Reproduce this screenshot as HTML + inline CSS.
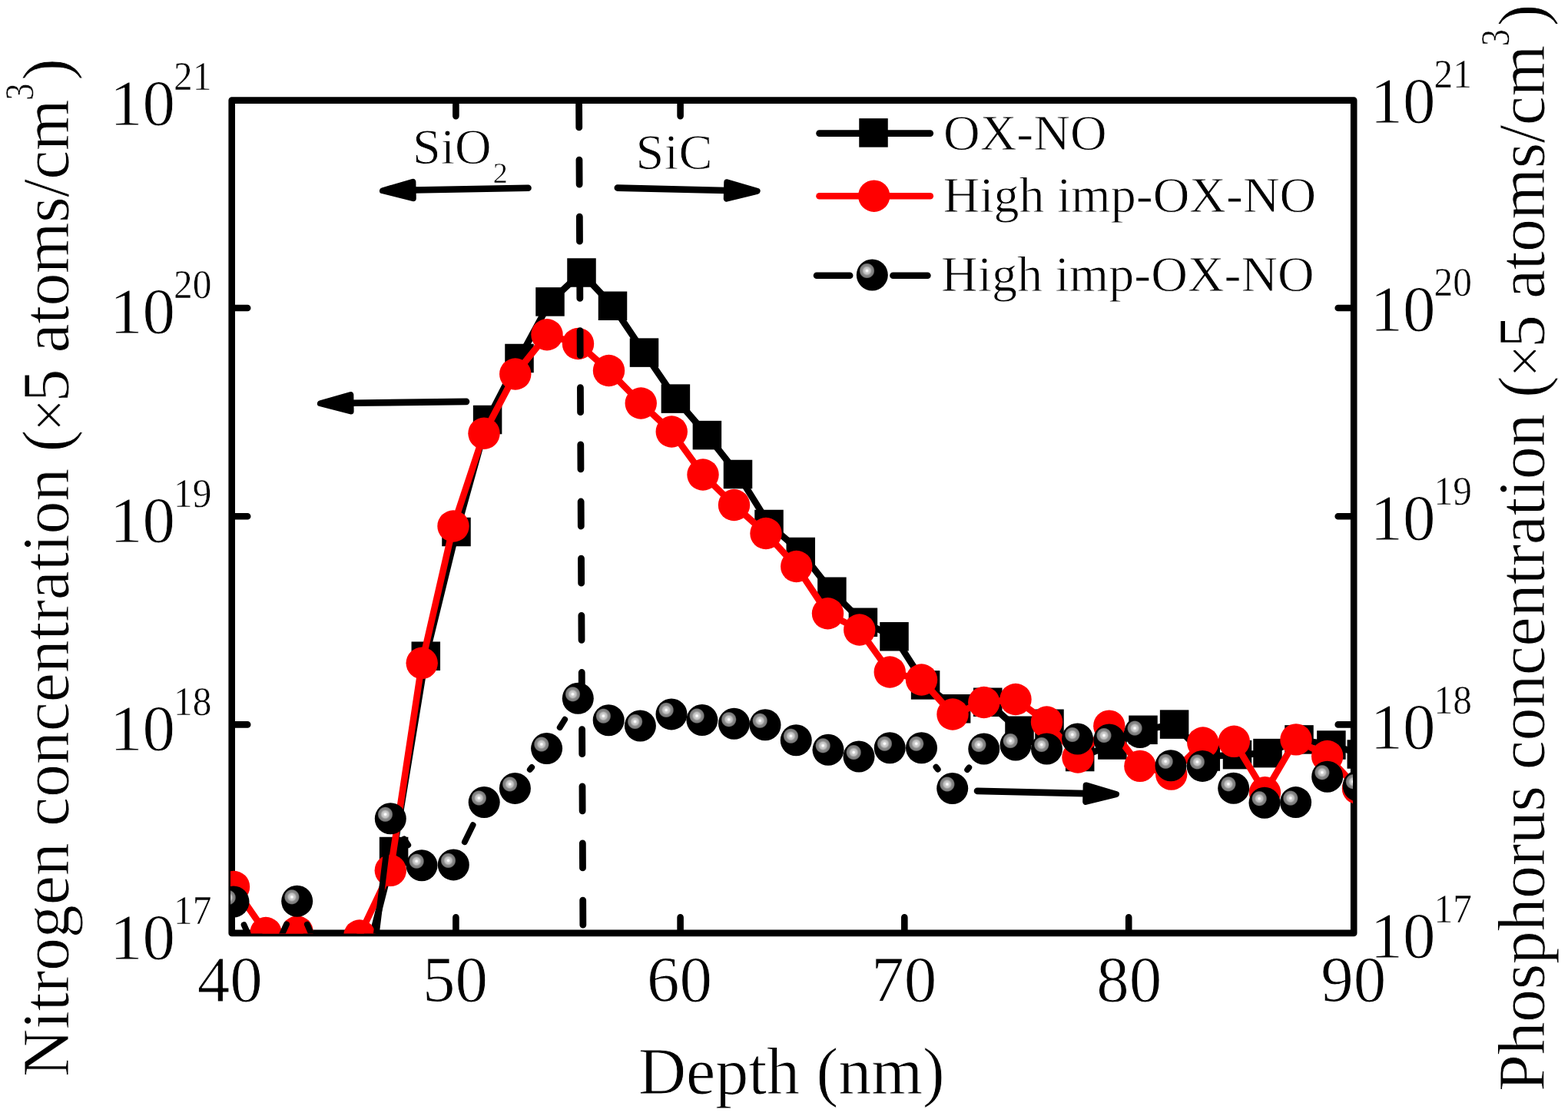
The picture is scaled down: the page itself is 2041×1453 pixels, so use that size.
<!DOCTYPE html>
<html lang="en"><head><meta charset="utf-8">
<title>Nitrogen and phosphorus concentration depth profile</title>
<style>
html,body{margin:0;padding:0;background:#fff;}
body{width:2041px;height:1453px;overflow:hidden;}
svg{display:block;}
text{font-family:"Liberation Serif","DejaVu Serif",serif;fill:#000;stroke:#fff;stroke-width:0.9px;stroke-linejoin:round;}
.tk{font-size:85px;}
.ex{font-size:52.5px;stroke-width:0.5px;}
.ti{font-size:86px;}
.lg{font-size:66px;}
</style></head><body>
<svg width="2041" height="1453" viewBox="0 0 2041 1453">
<defs>
<radialGradient id="bg" gradientUnits="objectBoundingBox" cx="0.334" cy="0.366" r="0.245" fx="0.334" fy="0.366">
<stop offset="0" stop-color="#fff"/><stop offset="0.1" stop-color="#fff"/><stop offset="0.24" stop-color="#d2d2d2"/><stop offset="0.46" stop-color="#bcbcbc"/><stop offset="0.6" stop-color="#8c8c8c"/><stop offset="0.88" stop-color="#787878"/><stop offset="1" stop-color="#000"/>
</radialGradient>
<clipPath id="cp"><rect x="300" y="130.6" width="1461" height="1084.8"/></clipPath>
</defs>
<rect width="2041" height="1453" fill="#fff"/>
<g fill="none" stroke="#000" stroke-width="8.6" stroke-linecap="round" stroke-linejoin="round">
<rect x="301.7" y="130.6" width="1460.5" height="1084.3"/>
<path d="M593.4 131.6v19.5M593.4 1213.9v-19.5M885.6 131.6v19.5M885.6 1213.9v-19.5M1177.3 1213.9v-19.5M1469.2 1213.9v-19.5M302.7 401h19.5M1761.2 401h-19.5M302.7 672.3h19.5M1761.2 672.3h-19.5M302.7 943.4h19.5M1761.2 943.4h-19.5"/>
</g>
<g clip-path="url(#cp)">
<polyline points="473,1264 512.6,1108.5 554.3,854.2 594,692.5 634.6,546.5 676,466.5 716,392.9 757,355 797.5,398.25 838.5,459.1 879.4,519.1 920.4,566.6 960.5,617.5 1001,682.5 1042.25,718.5 1082.9,770.25 1123.4,810.25 1164,828.75 1204.6,891.9 1244.6,922.75 1285.75,914.25 1327,951.25 1366,942.25 1405.7,985.5 1447.9,970 1488,950.3 1528.6,943.1 1569.3,985 1610.5,982.6 1650,980.6 1691,962.9 1732.9,970 1772.3,982" fill="none" stroke="#000" stroke-width="8.6" stroke-linejoin="round"/>
<g fill="#000">
<rect x="454.25" y="1245.25" width="37.5" height="37.5"/>
<rect x="493.85" y="1089.75" width="37.5" height="37.5"/>
<rect x="535.55" y="835.45" width="37.5" height="37.5"/>
<rect x="575.25" y="673.75" width="37.5" height="37.5"/>
<rect x="615.85" y="527.75" width="37.5" height="37.5"/>
<rect x="657.25" y="447.75" width="37.5" height="37.5"/>
<rect x="697.25" y="374.15" width="37.5" height="37.5"/>
<rect x="738.25" y="336.25" width="37.5" height="37.5"/>
<rect x="778.75" y="379.5" width="37.5" height="37.5"/>
<rect x="819.75" y="440.35" width="37.5" height="37.5"/>
<rect x="860.65" y="500.35" width="37.5" height="37.5"/>
<rect x="901.65" y="547.85" width="37.5" height="37.5"/>
<rect x="941.75" y="598.75" width="37.5" height="37.5"/>
<rect x="982.25" y="663.75" width="37.5" height="37.5"/>
<rect x="1023.5" y="699.75" width="37.5" height="37.5"/>
<rect x="1064.15" y="751.5" width="37.5" height="37.5"/>
<rect x="1104.65" y="791.5" width="37.5" height="37.5"/>
<rect x="1145.25" y="810" width="37.5" height="37.5"/>
<rect x="1185.85" y="873.15" width="37.5" height="37.5"/>
<rect x="1225.85" y="904" width="37.5" height="37.5"/>
<rect x="1267" y="895.5" width="37.5" height="37.5"/>
<rect x="1308.25" y="932.5" width="37.5" height="37.5"/>
<rect x="1347.25" y="923.5" width="37.5" height="37.5"/>
<rect x="1386.95" y="966.75" width="37.5" height="37.5"/>
<rect x="1429.15" y="951.25" width="37.5" height="37.5"/>
<rect x="1469.25" y="931.55" width="37.5" height="37.5"/>
<rect x="1509.85" y="924.35" width="37.5" height="37.5"/>
<rect x="1550.55" y="966.25" width="37.5" height="37.5"/>
<rect x="1591.75" y="963.85" width="37.5" height="37.5"/>
<rect x="1631.25" y="961.85" width="37.5" height="37.5"/>
<rect x="1672.25" y="944.15" width="37.5" height="37.5"/>
<rect x="1714.15" y="951.25" width="37.5" height="37.5"/>
<rect x="1753.55" y="963.25" width="37.5" height="37.5"/>
</g>
<polyline points="304.5,1154.5 346,1214.5 387,1213 428,1262 468,1218 508.3,1133.3 549.2,863.3 590,685 630,564.25 670.75,487 712,435.75 752.5,447.5 792.5,482.5 834.25,525 874.25,562 915,618 955.5,657.5 997,694.5 1036.75,737.5 1077.5,798.75 1118.75,820 1158.25,875 1199.5,885 1240,930 1280.75,914.5 1322,910.5 1362.5,940 1403,986 1443.8,945.2 1483.9,997.4 1524.7,1008.1 1565.8,967 1606.3,965.3 1646.5,1031.8 1687,962.9 1727.7,984.5 1767.5,1026.5" fill="none" stroke="#f00" stroke-width="8.6" stroke-linejoin="round"/>
<g fill="#f00">
<circle cx="304.5" cy="1154.5" r="20.7"/>
<circle cx="346" cy="1214.5" r="20.7"/>
<circle cx="387" cy="1213" r="20.7"/>
<circle cx="428" cy="1262" r="20.7"/>
<circle cx="468" cy="1218" r="20.7"/>
<circle cx="508.3" cy="1133.3" r="20.7"/>
<circle cx="549.2" cy="863.3" r="20.7"/>
<circle cx="590" cy="685" r="20.7"/>
<circle cx="630" cy="564.25" r="20.7"/>
<circle cx="670.75" cy="487" r="20.7"/>
<circle cx="712" cy="435.75" r="20.7"/>
<circle cx="752.5" cy="447.5" r="20.7"/>
<circle cx="792.5" cy="482.5" r="20.7"/>
<circle cx="834.25" cy="525" r="20.7"/>
<circle cx="874.25" cy="562" r="20.7"/>
<circle cx="915" cy="618" r="20.7"/>
<circle cx="955.5" cy="657.5" r="20.7"/>
<circle cx="997" cy="694.5" r="20.7"/>
<circle cx="1036.75" cy="737.5" r="20.7"/>
<circle cx="1077.5" cy="798.75" r="20.7"/>
<circle cx="1118.75" cy="820" r="20.7"/>
<circle cx="1158.25" cy="875" r="20.7"/>
<circle cx="1199.5" cy="885" r="20.7"/>
<circle cx="1240" cy="930" r="20.7"/>
<circle cx="1280.75" cy="914.5" r="20.7"/>
<circle cx="1322" cy="910.5" r="20.7"/>
<circle cx="1362.5" cy="940" r="20.7"/>
<circle cx="1403" cy="986" r="20.7"/>
<circle cx="1443.8" cy="945.2" r="20.7"/>
<circle cx="1483.9" cy="997.4" r="20.7"/>
<circle cx="1524.7" cy="1008.1" r="20.7"/>
<circle cx="1565.8" cy="967" r="20.7"/>
<circle cx="1606.3" cy="965.3" r="20.7"/>
<circle cx="1646.5" cy="1031.8" r="20.7"/>
<circle cx="1687" cy="962.9" r="20.7"/>
<circle cx="1727.7" cy="984.5" r="20.7"/>
<circle cx="1767.5" cy="1026.5" r="20.7"/>
</g>
<line x1="753.6" y1="133.9" x2="758.9" y2="1214" stroke="#000" stroke-width="8.8" stroke-linecap="round" stroke-dasharray="32 42.16"/>
<g stroke="#000" stroke-width="7.8" stroke-linecap="round">
<line x1="317.56" y1="1204.09" x2="331.44" y2="1234.91"/>
<line x1="358.66" y1="1234.96" x2="373.04" y2="1203.34"/>
<line x1="399.85" y1="1203.57" x2="414.25" y2="1236.73"/>
<line x1="437.52" y1="1298.41" x2="457.88" y2="1361.59"/>
<line x1="472.03" y1="1360.25" x2="504.27" y2="1098.55"/>
<line x1="526.04" y1="1092.34" x2="531.26" y2="1100.16"/>
<line x1="604.82" y1="1096.27" x2="615.68" y2="1074.13"/>
<line x1="689.81" y1="1001.94" x2="692.19" y2="998.96"/>
<line x1="728.7" y1="947.11" x2="735.2" y2="936.69"/>
<line x1="1218.43" y1="998.59" x2="1220.77" y2="1001.66"/>
<line x1="1259.15" y1="1002.1" x2="1261.3" y2="999.4"/>
</g>
<circle cx="304" cy="1174" r="20.5" fill="url(#bg)"/>
<circle cx="345" cy="1265" r="20.5" fill="url(#bg)"/>
<circle cx="386.7" cy="1173.3" r="20.5" fill="url(#bg)"/>
<circle cx="427.4" cy="1267" r="20.5" fill="url(#bg)"/>
<circle cx="468" cy="1393" r="20.5" fill="url(#bg)"/>
<circle cx="508.3" cy="1065.8" r="20.5" fill="url(#bg)"/>
<circle cx="549" cy="1126.7" r="20.5" fill="url(#bg)"/>
<circle cx="590.3" cy="1125.9" r="20.5" fill="url(#bg)"/>
<circle cx="630.2" cy="1044.5" r="20.5" fill="url(#bg)"/>
<circle cx="670.4" cy="1026.4" r="20.5" fill="url(#bg)"/>
<circle cx="711.6" cy="974.5" r="20.5" fill="url(#bg)"/>
<circle cx="752.3" cy="909.3" r="20.5" fill="url(#bg)"/>
<circle cx="792.2" cy="937.7" r="20.5" fill="url(#bg)"/>
<circle cx="833.4" cy="945" r="20.5" fill="url(#bg)"/>
<circle cx="874" cy="929.9" r="20.5" fill="url(#bg)"/>
<circle cx="913.9" cy="937.5" r="20.5" fill="url(#bg)"/>
<circle cx="955.5" cy="942.2" r="20.5" fill="url(#bg)"/>
<circle cx="996" cy="943.8" r="20.5" fill="url(#bg)"/>
<circle cx="1036.25" cy="963.75" r="20.5" fill="url(#bg)"/>
<circle cx="1078" cy="976.25" r="20.5" fill="url(#bg)"/>
<circle cx="1118" cy="985" r="20.5" fill="url(#bg)"/>
<circle cx="1158.25" cy="973.75" r="20.5" fill="url(#bg)"/>
<circle cx="1199.5" cy="973.75" r="20.5" fill="url(#bg)"/>
<circle cx="1239.7" cy="1026.5" r="20.5" fill="url(#bg)"/>
<circle cx="1280.75" cy="975" r="20.5" fill="url(#bg)"/>
<circle cx="1322" cy="970" r="20.5" fill="url(#bg)"/>
<circle cx="1362.5" cy="975" r="20.5" fill="url(#bg)"/>
<circle cx="1402.6" cy="962" r="20.5" fill="url(#bg)"/>
<circle cx="1443.8" cy="963" r="20.5" fill="url(#bg)"/>
<circle cx="1483.9" cy="953.6" r="20.5" fill="url(#bg)"/>
<circle cx="1524" cy="996.8" r="20.5" fill="url(#bg)"/>
<circle cx="1565.2" cy="997.4" r="20.5" fill="url(#bg)"/>
<circle cx="1605.7" cy="1026.3" r="20.5" fill="url(#bg)"/>
<circle cx="1646" cy="1045.2" r="20.5" fill="url(#bg)"/>
<circle cx="1686.6" cy="1044.6" r="20.5" fill="url(#bg)"/>
<circle cx="1727.7" cy="1011.2" r="20.5" fill="url(#bg)"/>
<circle cx="1768.2" cy="1023.2" r="20.5" fill="url(#bg)"/>
</g>
<line x1="687.5" y1="244.8" x2="538.59" y2="247.49" stroke="#000" stroke-width="8.6" stroke-linecap="round"/><polygon points="498,248.23 537.4,236.81 537.79,258.21" fill="#000" stroke="#000" stroke-width="8" stroke-linejoin="round"/>
<line x1="803.8" y1="244.6" x2="945.01" y2="247.94" stroke="#000" stroke-width="8.6" stroke-linecap="round"/><polygon points="985.6,248.91 945.76,258.66 946.27,237.27" fill="#000" stroke="#000" stroke-width="8" stroke-linejoin="round"/>
<line x1="607" y1="522.9" x2="457.5" y2="524.75" stroke="#000" stroke-width="8.6" stroke-linecap="round"/><polygon points="416.9,525.25 456.36,514.06 456.63,535.46" fill="#000" stroke="#000" stroke-width="8" stroke-linejoin="round"/>
<line x1="1272" y1="1029.9" x2="1412.41" y2="1033.09" stroke="#000" stroke-width="8.6" stroke-linecap="round"/><polygon points="1453,1034.01 1413.17,1043.81 1413.65,1022.41" fill="#000" stroke="#000" stroke-width="8" stroke-linejoin="round"/>
<g stroke-width="8.6" stroke-linecap="round">
<line x1="1066.5" y1="173.6" x2="1210.8" y2="173.6" stroke="#000"/>
<rect x="1118.25" y="154.15" width="37.5" height="37.5" fill="#000"/>
<line x1="1066.5" y1="255.2" x2="1210.8" y2="255.2" stroke="#f00"/>
<circle cx="1137.7" cy="255.2" r="20.7" fill="#f00"/>
<line x1="1063" y1="358.8" x2="1106.2" y2="358.8" stroke="#000"/>
<line x1="1162.4" y1="358.8" x2="1207.4" y2="358.8" stroke="#000"/>
<circle cx="1135.3" cy="358" r="20.5" fill="url(#bg)"/>
</g>
<text class="lg" x="1228" y="195.2">OX-NO</text>
<text class="lg" x="1227.5" y="275.8">High imp-OX-NO</text>
<text class="lg" x="1225" y="378.7">High imp-OX-NO</text>
<text class="lg" x="537" y="213.4" font-size="67px">SiO<tspan font-size="38px" stroke-width="0.4" dy="24.3" dx="2">2</tspan></text>
<text class="lg" x="827.6" y="219.7" font-size="67px" letter-spacing="0.4">SiC</text>
<text class="tk" x="143" y="163.2">10</text>
<text class="ex" transform="translate(226 117.2) scale(0.94 1)">21</text>
<text class="tk" x="1783.5" y="160">10</text>
<text class="ex" transform="translate(1866.5 114) scale(0.94 1)">21</text>
<text class="tk" x="143" y="433.9">10</text>
<text class="ex" transform="translate(226 387.9) scale(0.94 1)">20</text>
<text class="tk" x="1783.5" y="431.15">10</text>
<text class="ex" transform="translate(1866.5 385.15) scale(0.94 1)">20</text>
<text class="tk" x="143" y="705.5">10</text>
<text class="ex" transform="translate(226 659.5) scale(0.94 1)">19</text>
<text class="tk" x="1783.5" y="703.2">10</text>
<text class="ex" transform="translate(1866.5 657.2) scale(0.94 1)">19</text>
<text class="tk" x="143" y="976.9">10</text>
<text class="ex" transform="translate(226 930.9) scale(0.94 1)">18</text>
<text class="tk" x="1783.5" y="975.05">10</text>
<text class="ex" transform="translate(1866.5 929.05) scale(0.94 1)">18</text>
<text class="tk" x="143" y="1248.7">10</text>
<text class="ex" transform="translate(226 1202.7) scale(0.94 1)">17</text>
<text class="tk" x="1783.5" y="1247.3">10</text>
<text class="ex" transform="translate(1866.5 1201.3) scale(0.94 1)">17</text>
<text class="tk" x="299.2" y="1303.6" text-anchor="middle">40</text>
<text class="tk" x="592.4" y="1303.6" text-anchor="middle">50</text>
<text class="tk" x="884.6" y="1303.6" text-anchor="middle">60</text>
<text class="tk" x="1176.8" y="1303.6" text-anchor="middle">70</text>
<text class="tk" x="1469.7" y="1303.6" text-anchor="middle">80</text>
<text class="tk" x="1761.7" y="1303.6" text-anchor="middle">90</text>
<text class="ti" x="1030.3" y="1424.3" text-anchor="middle" font-size="85.2px">Depth (nm)</text>
<text class="ti" transform="translate(89.2 1402) rotate(-90)"><tspan letter-spacing="-0.14">Nitrogen concentration </tspan><tspan dx="0">(</tspan><tspan dx="-2.4" font-size="77px">×</tspan><tspan dx="-4.7">5</tspan><tspan dx="0.2" letter-spacing="-0.6"> atoms/cm</tspan><tspan font-size="53px" stroke-width="0.5" dy="-46" dx="-0.7" textLength="22" lengthAdjust="spacingAndGlyphs">3</tspan><tspan dy="46" dx="3.7">)</tspan></text>
<text class="ti" transform="translate(2010 1421) rotate(-90)"><tspan letter-spacing="-0.375">Phosphorus concentration </tspan><tspan dx="0">(</tspan><tspan dx="-2.4" font-size="77px">×</tspan><tspan dx="-4.7">5</tspan><tspan dx="0.2" letter-spacing="-0.6"> atoms/cm</tspan><tspan font-size="53px" stroke-width="0.5" dy="-46" dx="-0.7" textLength="22" lengthAdjust="spacingAndGlyphs">3</tspan><tspan dy="46" dx="3.7">)</tspan></text>
</svg>
</body></html>
